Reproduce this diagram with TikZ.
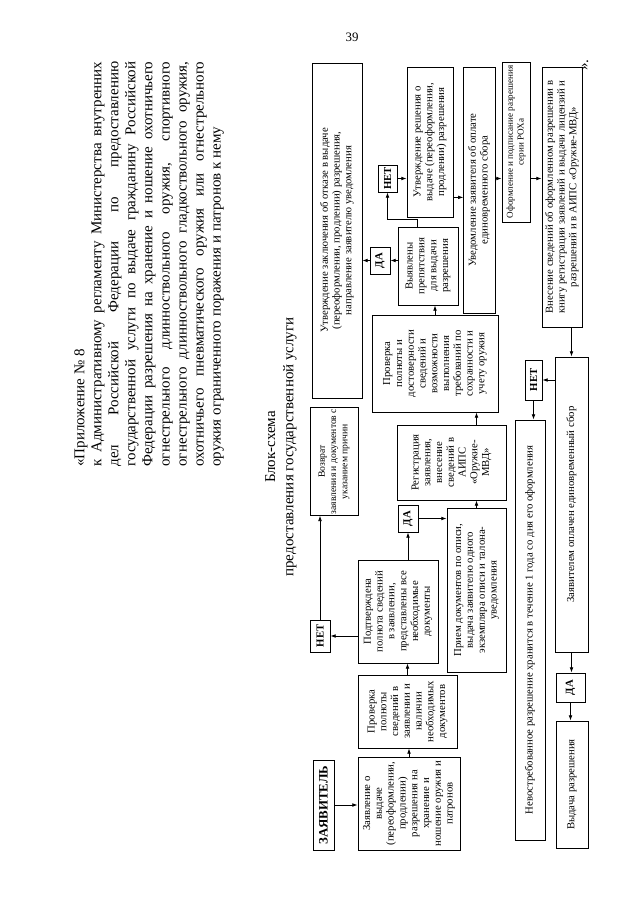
\documentclass[tikz,border=0pt]{standalone}
\usepackage{fontspec}
\setmainfont{Liberation Serif}
\usetikzlibrary{arrows.meta,calc}

\begin{document}
\begin{tikzpicture}[x=0.0328cm, y=0.0328cm, >={Latex[length=5pt,width=3.5pt]}]

    \def\pxu{0.0328cm}
    \tikzset{
        box/.style={draw, line width=0.7pt, align=center, inner sep=1pt,
            font=\fontsize{10}{11}\selectfont},
        small/.style={font=\fontsize{9}{10.5}\selectfont},
        yesno/.style={draw, line width=0.7pt, inner sep=1pt,
            font=\bfseries\fontsize{10}{11}\selectfont},
        wh/.style 2 args={minimum width=#1*\pxu, minimum height=#2*\pxu},
        every path/.style={line width=0.7pt}
    }

    \useasboundingbox (0,0) rectangle (640,-905);
    \fill[white] (0,0) rectangle (640,-905);
    \node[font=\fontsize{12}{14}\selectfont] (pagenum) at (352,-37) {39};

    % the whole sheet is turned by 90 degrees
    \begin{scope}[shift={(640,-905)}, rotate=90, transform shape]

    % heading of the appendix
    \node[anchor=north west, text width=405*\pxu, align=justify, inner sep=0pt,
        font=\fontsize{14}{15.9}\selectfont] (header) at (438,566)
        {«Приложение №~8\\
        к Административному регламенту Министерства внутренних\linebreak
        дел Российской Федерации по предоставлению\linebreak
        государственной услуги по выдаче гражданину Российской\linebreak
        Федерации разрешения на хранение и ношение охотничьего\linebreak
        огнестрельного длинноствольного оружия, спортивного\linebreak
        огнестрельного длинноствольного гладкоствольного оружия,\linebreak
        охотничьего пневматического оружия или огнестрельного\linebreak
        оружия ограниченного поражения и патронов к нему};
    \node[align=center, font=\fontsize{14}{17}\selectfont] (title) at (458,359)
        {Блок-схема\\предоставления государственной услуги};
    \node[font=\fontsize{14}{16}\selectfont, inner sep=0pt] (quote) at (840,55) {».};

    % first branch: application and its checks
    \node[yesno, wh={90}{21}, font=\bfseries\fontsize{12}{14}\selectfont] (zayavitel) at (100,316.5) {ЗАЯВИТЕЛЬ};
    \node[box, wh={93}{102}] (zayavlenie) at (101.5,231)
        {Заявление о\\выдаче\\(переоформлении,\\продлении)\\разрешения на\\хранение и\\ношение оружия и\\патронов};
    \node[box, wh={73}{99}] (proverka1) at (193.5,232.5)
        {Проверка\\полноты\\сведений в\\заявлении и\\наличии\\необходимых\\документов};
    \node[box, wh={103}{80}] (podtv) at (293.5,242)
        {Подтверждена\\полнота сведений\\в заявлении,\\представлены все\\необходимые\\документы};
    \node[yesno, wh={32}{20}] (net1) at (269,320) {НЕТ};
    \node[box, small, wh={79}{48}] (vozvrat) at (443.5,306)
        {Возврат\\заявления и документов с\\указанием причин};
    \node[yesno, wh={27}{20}] (da1) at (386.5,232) {ДА};
    \node[box, wh={164}{59}] (priem) at (315,163.5)
        {Прием документов по описи,\\выдача заявителю одного\\экземпляра описи и талона-\\уведомления};
    \node[box, wh={75}{109}] (registr) at (442.5,188.5)
        {Регистрация\\заявления,\\внесение\\сведений в\\АИПС\\«Оружие-\\МВД»};
    \node[box, wh={97}{126}] (proverka2) at (541.5,205)
        {Проверка\\полноты и\\достоверности\\сведений и\\возможности\\выполнения\\требований по\\сохранности и\\учету оружия};

    % second branch: decision
    \node[box, wh={335}{50}] (otkaz) at (674.5,303)
        {Утверждение заключения об отказе в выдаче\\(переоформлении, продлении) разрешения,\\направление заявителю уведомления};
    \node[yesno, wh={27}{20}] (da2) at (644.5,260) {ДА};
    \node[box, wh={78}{60}] (vyyavl) at (639,212)
        {Выявлены\\препятствия\\для выдачи\\разрешения};
    \node[yesno, wh={27}{19}] (net2) at (726.5,252.5) {НЕТ};
    \node[box, wh={150}{46}] (reshenie) at (763,210)
        {Утверждение решения о\\выдаче (переоформлении,\\продлении) разрешения};
    \node[box, wh={246}{32}] (uvedoml) at (715,161)
        {Уведомление заявителя об оплате\\единовременного сбора};
    \node[box, wh={160}{28}, font=\fontsize{8.5}{10}\selectfont] (oform) at (763,124)
        {Оформление и подписание разрешения\\серии РОХа};
    \node[box, wh={260}{40}] (vnesenie) at (708,78)
        {Внесение сведений об оформленном разрешении в\\книгу регистрации заявлений и выдачи лицензий и\\разрешений и в АИПС «Оружие-МВД»};

    % third branch: payment and issue
    \node[box, wh={295}{33}] (oplachen) at (400.5,68.5) {Заявителем оплачен единовременный сбор};
    \node[yesno, wh={40}{17}] (net3) at (525,106.5) {НЕТ};
    \node[box, wh={420}{30}] (nevostreb) at (275,110)
        {Невостребованное разрешение хранится в течение 1 года со дня его оформления};
    \node[yesno, wh={29}{29}] (da3) at (217.5,69.5) {ДА};
    \node[box, wh={127}{32}] (vydacha) at (120.5,68) {Выдача разрешения};

    % connectors
    \draw[->] (zayavitel.south) -- (zayavitel.south |- zayavlenie.north);
    \draw[->] (zayavlenie.east) -- (zayavlenie.east -| proverka1.west);
    \draw[->] (proverka1.east) -- (proverka1.east -| podtv.west);
    \draw[->] (podtv.north -| net1) -- (net1.south);
    \draw[->] (net1.east) -- (net1.east -| vozvrat.west);
    \draw[->] (da1.west -| podtv.east) -- (da1.west);
    \draw[->] (da1.south) -- (da1.south |- priem.north);
    \draw[->] (priem.east) -- (priem.east -| registr.west);
    \draw[->] (registr.east |- priem.east) -- (proverka2.west |- priem.east);
    \draw[->] (proverka2.east) -- (proverka2.east -| vyyavl.west);
    \draw[->] (vyyavl.north -| da2) -- (da2.south);
    \draw[->] (da2.north) -- (da2.north |- otkaz.south);
    \draw[->] ($(vyyavl.east)+(0,11)$) -- ++(7,0) |- (net2.west);
    \draw[->] (net2.south) -- (net2.south |- reshenie.north);
    \draw[->] ($(reshenie.south west)+(20,0)$) -- ++(0,-10);
    \draw[->] (uvedoml.south -| net2) -- (oform.north -| net2);
    \draw[->] (oform.south -| net2) -- (vnesenie.north -| net2);
    \draw[->] (vnesenie.west |- oplachen.east) -- (oplachen.east);
    \draw[->] (oplachen.north -| net3) -- (net3.south);
    \draw[->] (net3.west) -- (net3.west -| nevostreb.east);
    \draw[->] (oplachen.west) -- (oplachen.west -| da3.east);
    \draw[->] (da3.west) -- (da3.west -| vydacha.east);

    \end{scope}

\end{tikzpicture}
\end{document}
